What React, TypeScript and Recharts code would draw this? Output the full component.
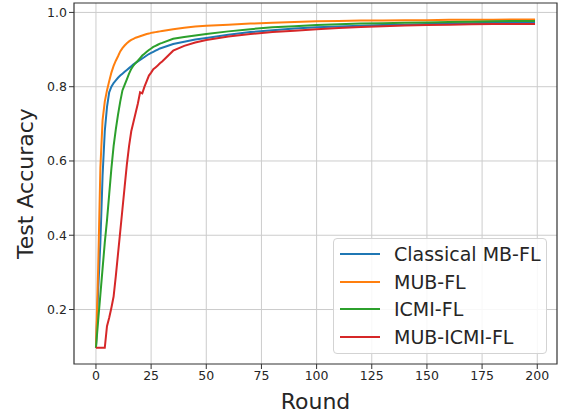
import { CartesianGrid, Legend, Line, LineChart, ReferenceArea, XAxis, YAxis } from 'recharts';

const rounds = [
  0, 1, 2, 3, 4, 5, 6, 7, 8, 9, 10, 11, 12, 13, 14, 15, 16, 17, 18, 19, 20, 21, 22, 23, 24, 25, 26, 27, 28, 29, 30,
  35, 40, 45, 50, 60, 70, 80, 90, 100, 110, 120, 130, 140, 150, 160, 170, 180, 190, 199,
];

const classicalMbFl = [
  0.097, 0.25, 0.38, 0.56, 0.68, 0.745, 0.785, 0.8, 0.81, 0.817, 0.824, 0.83, 0.835, 0.84, 0.845, 0.85, 0.855, 0.86, 0.864, 0.868,
  0.872, 0.876, 0.88, 0.884, 0.888, 0.891, 0.894, 0.897, 0.9, 0.903, 0.905,
  0.915, 0.921, 0.927, 0.931, 0.94, 0.947, 0.952, 0.957, 0.96, 0.962, 0.964, 0.966, 0.967, 0.969, 0.97, 0.971, 0.972, 0.973, 0.973,
];

const mubFl = [
  0.097, 0.31, 0.58, 0.71, 0.76, 0.79, 0.815, 0.838, 0.856, 0.87, 0.882, 0.895, 0.904, 0.911, 0.917, 0.922, 0.926, 0.929, 0.932, 0.934,
  0.936, 0.938, 0.94, 0.942, 0.943, 0.945, 0.946, 0.947, 0.948, 0.949, 0.95,
  0.955, 0.959, 0.962, 0.964, 0.967, 0.97, 0.972, 0.974, 0.976, 0.977, 0.978, 0.978, 0.979, 0.979, 0.98, 0.98, 0.98, 0.981, 0.981,
];

const icmiFl = [
  0.097, 0.17, 0.24, 0.31, 0.38, 0.44, 0.51, 0.58, 0.64, 0.685, 0.725, 0.76, 0.79, 0.805, 0.82, 0.835, 0.848, 0.857, 0.864, 0.87,
  0.877, 0.884, 0.889, 0.894, 0.899, 0.903, 0.907, 0.91, 0.913, 0.916, 0.918,
  0.929, 0.934, 0.938, 0.942, 0.949, 0.955, 0.96, 0.963, 0.966, 0.968, 0.97, 0.971, 0.972, 0.973, 0.974, 0.975, 0.976, 0.977, 0.977,
];

const mubIcmiFl = [
  0.097, 0.097, 0.097, 0.097, 0.097, 0.155, 0.178, 0.205, 0.235, 0.29, 0.35, 0.41, 0.47, 0.53, 0.59, 0.64, 0.68, 0.705, 0.73, 0.755,
  0.785, 0.782, 0.8, 0.815, 0.83, 0.838, 0.847, 0.852, 0.857, 0.863, 0.868,
  0.897, 0.91, 0.919, 0.926, 0.935, 0.942, 0.947, 0.951, 0.955, 0.958, 0.961, 0.963, 0.965, 0.966, 0.967, 0.968, 0.969, 0.969, 0.969,
];

const xTicks = [0, 25, 50, 75, 100, 125, 150, 175, 200];
const yTicks = [0.2, 0.4, 0.6, 0.8, 1.0];

const series = [
  { key: 'classical', label: 'Classical MB-FL', color: '#1f77b4', values: classicalMbFl },
  { key: 'mub', label: 'MUB-FL', color: '#ff7f0e', values: mubFl },
  { key: 'icmi', label: 'ICMI-FL', color: '#2ca02c', values: icmiFl },
  { key: 'mubIcmi', label: 'MUB-ICMI-FL', color: '#d62728', values: mubIcmiFl },
];

const data = rounds.map((round, i) => {
  const row: Record<string, number> = { round };
  series.forEach(s => { row[s.key] = s.values[i]; });
  return row;
});

const font = '"DejaVu Sans", sans-serif';
const textColor = '#262626';
const xDomain: [number, number] = [-9.95, 208.95];
const yDomain: [number, number] = [0.0533, 1.0254];

function LegendBox() {
  return (
    <div style={{ width: 214, height: 116, boxSizing: 'border-box', border: '1px solid #d3d3d3', borderRadius: 4, background: 'rgba(255,255,255,0.85)', paddingTop: 1, fontFamily: font }}>
      {series.map(s => (
        <div key={s.key} style={{ display: 'flex', alignItems: 'center', height: 27.7 }}>
          <div style={{ width: 40, height: 2, marginLeft: 6, background: s.color }} />
          <span style={{ marginLeft: 14, fontSize: 19, color: textColor, lineHeight: '20px' }}>{s.label}</span>
        </div>
      ))}
    </div>
  );
}

export default function App() {
  return (
    <div style={{ position: 'absolute', left: 0, top: 0, width: 567, height: 417, background: '#fff' }}>
      <LineChart width={567} height={417} data={data} margin={{ top: 3, right: 10, left: 0, bottom: 0 }}>
        <CartesianGrid stroke="#cccccc" strokeWidth={1} horizontalValues={yTicks} verticalValues={xTicks} />
        <XAxis
          dataKey="round"
          type="number"
          domain={xDomain}
          ticks={xTicks}
          allowDataOverflow
          height={53}
          tickSize={5}
          tickLine={{ stroke: '#333' }}
          axisLine={false}
          tick={{ fontSize: 12.5, fill: textColor, fontFamily: font }}
          label={{ value: 'Round', position: 'insideBottom', offset: 8, fontSize: 22, fill: textColor, fontFamily: font }}
        />
        <YAxis
          type="number"
          domain={yDomain}
          ticks={yTicks}
          allowDataOverflow
          width={74}
          tickSize={5}
          tickLine={{ stroke: '#333' }}
          axisLine={false}
          tickFormatter={(v: number) => v.toFixed(1)}
          tick={{ fontSize: 12.5, fill: textColor, fontFamily: font }}
          label={{ value: 'Test Accuracy', angle: -90, position: 'insideLeft', offset: 25, fontSize: 22, fill: textColor, fontFamily: font, style: { textAnchor: 'middle' } }}
        />
        {series.map(s => (
          <Line key={s.key} type="linear" dataKey={s.key} name={s.label} stroke={s.color} strokeWidth={2} dot={false} activeDot={false} isAnimationActive={false} />
        ))}
        <ReferenceArea x1={xDomain[0]} x2={xDomain[1]} y1={yDomain[0]} y2={yDomain[1]} fill="none" stroke="#333" strokeWidth={1.2} ifOverflow="extendDomain" />
        <Legend layout="vertical" align="center" verticalAlign="middle" content={() => <LegendBox />} wrapperStyle={{ left: 333, top: 238, width: 214 }} />
      </LineChart>
    </div>
  );
}
